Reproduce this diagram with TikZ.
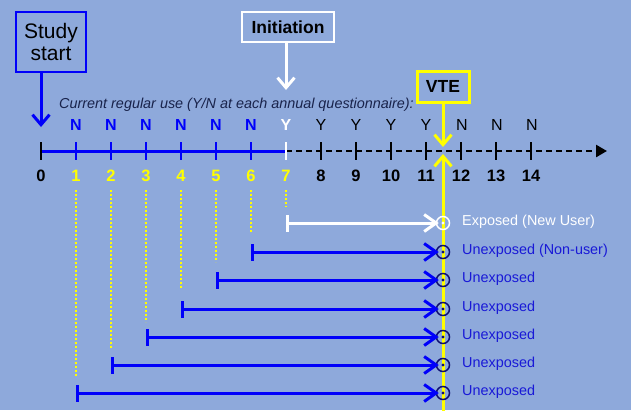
\documentclass[tikz,border=0pt]{standalone}
\usepackage{fontspec}
\setmainfont{Liberation Sans}
\usetikzlibrary{arrows.meta}
\definecolor{bg}{RGB}{142,169,219}
\definecolor{lblue}{RGB}{0,0,250}
\definecolor{tblue}{RGB}{25,25,215}
\definecolor{navy}{RGB}{15,15,110}
\definecolor{yel}{RGB}{255,255,0}
\definecolor{itxt}{RGB}{25,35,75}
\tikzset{
  box/.style={draw, line width=2pt, inner sep=0pt, align=center},
  bigtxt/.style={font=\fontsize{21}{24}\selectfont},
  boldtxt/.style={font=\fontsize{17.5}{20}\selectfont\bfseries},
  lettxt/.style={font=\fontsize{16}{18}\selectfont, inner sep=0pt},
  letbold/.style={font=\fontsize{16}{18}\selectfont\bfseries, inner sep=0pt},
  numtxt/.style={font=\fontsize{16.5}{18}\selectfont\bfseries, inner sep=0pt},
  lbltxt/.style={font=\fontsize{14.4}{17}\selectfont, anchor=west, inner sep=0pt},
  downarrow/.style={line width=3pt, -{Straight Barb[length=10pt,width=17pt]}},
  tickmark/.style={line width=2.8pt},
  guide/.style={yel, line width=2pt, dash pattern=on 2pt off 2pt},
  period/.style={line width=3pt, shorten >=-3pt, {Bar[width=17pt]}-{Straight Barb[length=12pt,width=17pt]}},
  ring/.style={circle, draw, line width=1.5pt, minimum size=13pt, inner sep=0pt},
}
\begin{document}
\begin{tikzpicture}[x=1pt,y=-1pt]
\fill[bg] (0,0) rectangle (631,410);
\useasboundingbox (0,0) rectangle (631,410);

% tick coordinates
\foreach \i in {0,...,14} {
  \coordinate (t\i) at ({41+35*\i},151);
  \coordinate (ta\i) at ({41+35*\i},142);
  \coordinate (tb\i) at ({41+35*\i},160);
}
\coordinate (axisend) at (607,151);

% yellow VTE line
\node[box, draw=yel, line width=3pt, boldtxt, minimum width=52pt, minimum height=31pt] (vte) at (443,86.5) {VTE};
\coordinate (vtetop) at (443,147);
\coordinate (vtebot) at (443,154);
\coordinate (vtefoot) at (443,412);
\draw[yel, downarrow] (vte.south) -- (vtetop);
\draw[yel, downarrow] (vtefoot) -- (vtebot);

% timeline
\draw[lblue, line width=3pt] (t0) -- (t7);
\draw[black, line width=2.5pt, dash pattern=on 6pt off 4pt, -{Triangle[length=11pt,width=12pt]}] (t7) -- (axisend);
\draw[tickmark, black] (ta0) -- (tb0);
\foreach \i in {1,...,6} \draw[tickmark, lblue] (ta\i) -- (tb\i);
\draw[tickmark, white] (ta7) -- (tb7);
\foreach \i in {8,...,14} \draw[tickmark, black] (ta\i) -- (tb\i);

% boxes
\node[box, draw=lblue, bigtxt, minimum width=70pt, minimum height=60pt] (study) at (51,42) {Study\\[-2pt]start};
\coordinate (studyend) at (41,127);
\coordinate (studytop) at (41,73);
\draw[lblue, downarrow] (studytop) -- (studyend);

\node[box, draw=white, boldtxt, minimum width=92pt, minimum height=30pt] (init) at (288,27) {Initiation};
\coordinate (initend) at (286,90);
\coordinate (inittop) at (286,43);
\draw[white, downarrow] (inittop) -- (initend);

\node[font=\fontsize{14.4}{17}\selectfont\itshape, text=itxt, anchor=west, inner sep=0pt] (cap) at (59,105) {Current regular use (Y/N at each annual questionnaire):};

% letters row
\foreach \i in {1,...,6} \node[letbold, text=lblue] (u\i) at ({41+35*\i},125) {N};
\node[letbold, text=white] (u7) at (286,125) {Y};
\foreach \i in {8,...,11} \node[lettxt, text=black] (u\i) at ({41+35*\i},125) {Y};
\foreach \i in {12,...,14} \node[lettxt, text=black] (u\i) at ({42+35*\i},125) {N};

% numbers row
\node[numtxt, text=black] (n0) at (41,176) {0};
\foreach \i in {1,...,7} \node[numtxt, text=yel] (n\i) at ({41+35*\i},176) {\i};
\foreach \i in {8,...,14} \node[numtxt, text=black] (n\i) at ({41+35*\i},176) {\i};

% dotted guides
\foreach \i/\e in {1/377,2/348,3/322,4/288,5/262,6/233,7/207} {
  \coordinate (gs\i) at ({41+35*\i},190);
  \coordinate (ge\i) at ({41+35*\i},\e);
  \draw[guide] (gs\i) -- (ge\i);
}

% exposure periods
\coordinate (s7) at (286,223);
\node[ring, draw=white] (c7) at (443,223) {};
\fill[white] (c7) circle (1.6pt);
\draw[white, period] (s7) -- (c7.west);
\node[lbltxt, text=white] (l7) at (462,222) {Exposed (New User)};

\foreach \i/\y/\t in {6/252/Unexposed (Non-user),5/280/Unexposed,4/309/Unexposed,3/337/Unexposed,2/365/Unexposed,1/393/Unexposed} {
  \coordinate (s\i) at ({41+35*\i},\y);
  \node[ring, draw=navy] (c\i) at (443,\y) {};
  \fill[navy] (c\i) circle (1.6pt);
  \draw[lblue, period] (s\i) -- (c\i.west);
  \node[lbltxt, text=tblue] (l\i) at (462,{\y-1}) {\t};
}
\end{tikzpicture}
\end{document}
